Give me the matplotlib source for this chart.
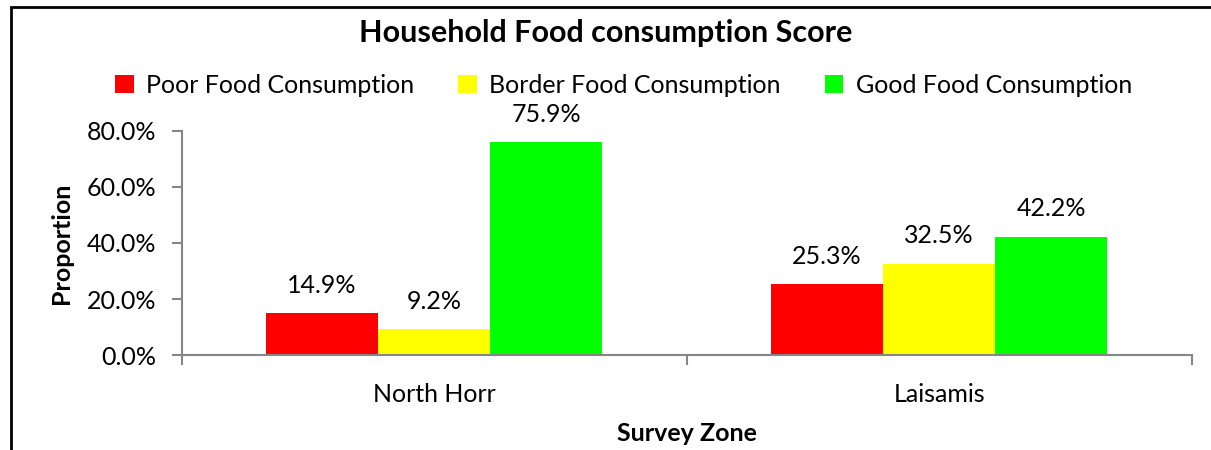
import matplotlib
matplotlib.use("Agg")

import numpy as np
import matplotlib.pyplot as plt
from matplotlib.patches import Rectangle

plt.rcParams["font.family"] = ["Lato", "DejaVu Sans"]

# Data
zones = ["North Horr", "Laisamis"]
poor = [14.9, 25.3]
border = [9.2, 32.5]
good = [75.9, 42.2]
series_names = ["Poor Food Consumption", "Border Food Consumption", "Good Food Consumption"]
colors = ["#FF0000", "#FFFF00", "#00FF00"]

fig = plt.figure(figsize=(12.11, 4.5), dpi=100)
ax = fig.add_axes([0.150, 0.211, 0.834, 0.498])

x = np.arange(len(zones))
width = 0.222
grey = "#868686"

for i, (vals, name, col) in enumerate(zip([poor, border, good], series_names, colors)):
    pos = x + (i - 1) * width
    ax.bar(pos, np.array(vals) / 100, width, color=col, label=name, linewidth=0)
    for px, v in zip(pos, vals):
        ax.annotate(f"{v:.1f}%", (px, v / 100), xytext=(0, 12), textcoords="offset points",
                    ha="center", va="bottom", fontsize=18)

ax.set_ylim(0, 0.8)
ax.set_xlim(-0.5, 1.5)
ax.set_yticks([0, 0.2, 0.4, 0.6, 0.8])
ax.set_yticklabels([f"{t:.1f}%" for t in [0, 20, 40, 60, 80]], fontsize=18)
ax.set_xticks(x)
ax.set_xticklabels(zones, fontsize=18)
ax.set_xticks([-0.5, 0.5, 1.5], minor=True)
ax.tick_params(axis="x", which="major", length=0, pad=20)
ax.tick_params(axis="x", which="minor", length=7, color=grey, width=1.5)
ax.tick_params(axis="y", length=7, color=grey, width=1.5, pad=11)

for s in ["top", "right"]:
    ax.spines[s].set_visible(False)
for s in ["left", "bottom"]:
    ax.spines[s].set_color(grey)
    ax.spines[s].set_linewidth(1.5)

ax.set_ylabel("Proportion", fontsize=18, fontweight="bold", labelpad=10)
ax.set_xlabel("Survey Zone", fontsize=18, fontweight="bold", labelpad=12)

fig.suptitle("Household Food consumption Score", fontsize=22, fontweight="bold", y=0.927, va="center")
fig.legend(loc="center", bbox_to_anchor=(0.515, 0.81), ncol=3, frameon=False, fontsize=18,
           handlelength=0.75, handleheight=0.75, handletextpad=0.5, columnspacing=1.75)

# outer frame
fig.patches.append(Rectangle((11 / 1211, -0.1), 1.2, 443 / 450 + 0.1, transform=fig.transFigure,
                             fill=False, edgecolor="black", linewidth=2))

fig.savefig("out.png", dpi=100)
